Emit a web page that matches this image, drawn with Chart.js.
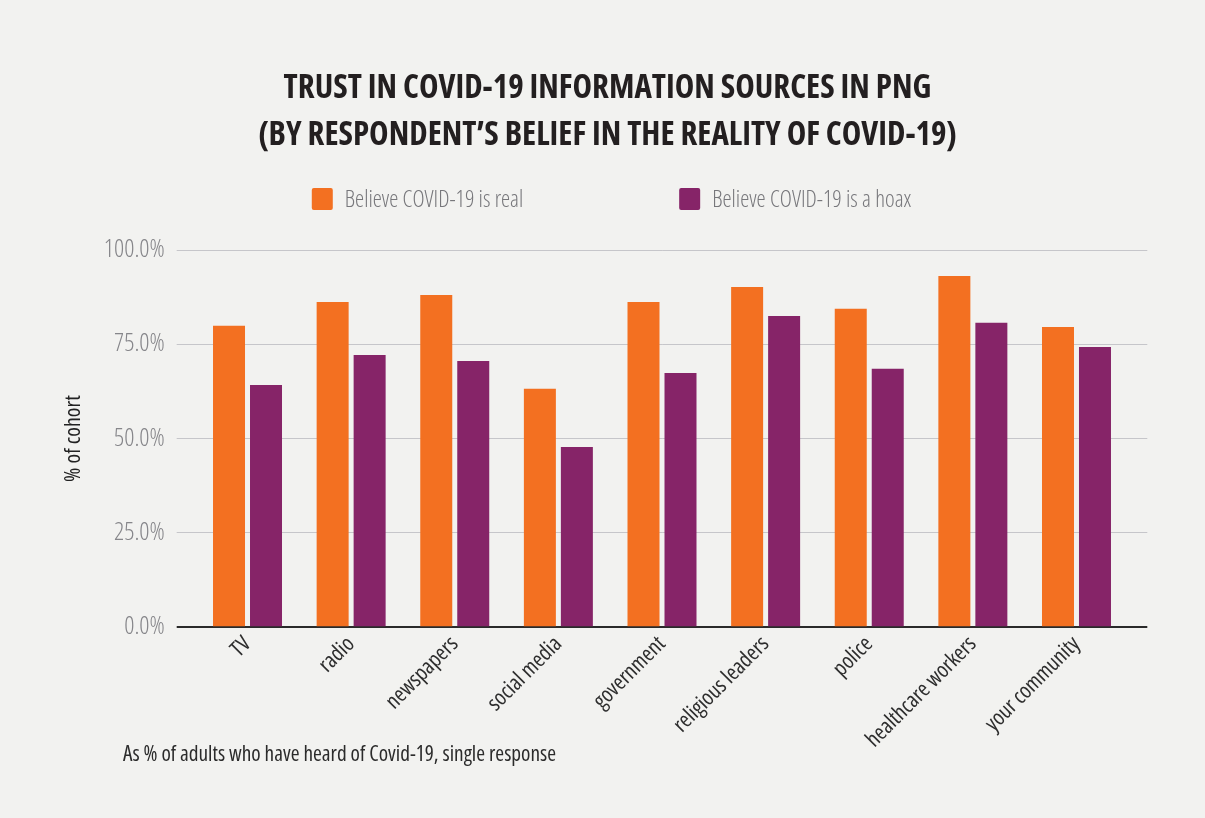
<!DOCTYPE html>
<html>
<head>
<meta charset="utf-8">
<script src="https://cdn.jsdelivr.net/npm/chart.js@4/dist/chart.umd.min.js"></script>
<style>
  html, body { margin: 0; padding: 0; background: #f2f2f0; }
  #wrap { width: 1205px; height: 818px; position: relative; }
  canvas { display: block; }
</style>
</head>
<body>
<div id="wrap"><canvas id="chart" width="1205" height="818"></canvas></div>
<script>
// Trust in information sources, split by whether the respondent believes COVID-19 is real
const categories = ['TV', 'radio', 'newspapers', 'social media', 'government',
  'religious leaders', 'police', 'healthcare workers', 'your community'];
const believeReal = [79.9, 86.2, 88.1, 63.2, 86.2, 90.2, 84.4, 93.1, 79.6];
const believeHoax = [64.2, 72.2, 70.6, 47.8, 67.4, 82.5, 68.5, 80.7, 74.3];
const seriesNames = ['Believe COVID-19 is real', 'Believe COVID-19 is a hoax'];
const seriesColors = ['#f37021', '#862468'];
const yTicks = [0, 25, 50, 75, 100];
const titleLines = ['TRUST IN COVID-19 INFORMATION SOURCES IN PNG',
  '(BY RESPONDENT\u2019S BELIEF IN THE REALITY OF COVID-19)'];
const yTitle = '% of cohort';
const footnote = 'As % of adults who have heard of Covid-19, single response';

// Open Sans is a variable font with a width axis; "condensed" selects its narrow cut
const FAMILY = "'Open Sans', 'Roboto Condensed', sans-serif";
const LIGHT = '300 condensed';
const REGULAR = '400 condensed';
const MEDIUM = '500 condensed';
const BOLD = '700 condensed';
const BG = '#f2f2f0';
const GRID = '#c6c6ca';
const BASE = '#2a2a2a';

const gridColor = c => (c.tick && c.tick.value === 0 ? BASE : GRID);
const gridWidth = c => (c.tick && c.tick.value === 0 ? 2 : 1);

// Paints the card background, the series key under the title and the footnote
const decorations = {
  id: 'decorations',
  beforeDraw(chart) {
    const ctx = chart.ctx;
    ctx.save();
    ctx.fillStyle = BG;
    ctx.fillRect(0, 0, chart.width, chart.height);
    ctx.restore();
  },
  afterDraw(chart) {
    const ctx = chart.ctx;
    ctx.save();
    // series key
    ctx.font = LIGHT + ' 23px ' + FAMILY;
    const box = 21, boxH = 22, gap = 12, itemGap = 156;
    const widths = chart.data.datasets.map(d => box + gap + ctx.measureText(d.label).width);
    const total = widths.reduce((a, b) => a + b, 0) + itemGap * (widths.length - 1);
    let x = (chart.width - total) / 2 + 9;
    const yMid = 199;
    chart.data.datasets.forEach((d, i) => {
      ctx.fillStyle = d.backgroundColor;
      ctx.beginPath();
      ctx.roundRect(x, yMid - boxH / 2, box, boxH, 2);
      ctx.fill();
      ctx.fillStyle = '#77777b';
      ctx.textBaseline = 'alphabetic';
      ctx.textAlign = 'left';
      ctx.fillText(d.label, x + box + gap, 207);
      x += widths[i] + itemGap;
    });
    // footnote
    ctx.font = MEDIUM + ' 21.3px ' + FAMILY;
    ctx.fillStyle = '#2b2b2b';
    ctx.fillText(footnote, 123, 761);
    ctx.restore();
  }
};

new Chart(document.getElementById('chart'), {
  type: 'bar',
  data: {
    labels: categories,
    datasets: [
      { label: seriesNames[0], data: believeReal, backgroundColor: seriesColors[0] },
      { label: seriesNames[1], data: believeHoax, backgroundColor: seriesColors[1] }
    ]
  },
  options: {
    responsive: false,
    devicePixelRatio: 1,
    animation: false,
    categoryPercentage: 0.714,
    barPercentage: 0.865,
    layout: { padding: { left: 10, right: 0, top: 0, bottom: 0 } },
    plugins: {
      legend: { display: false },
      tooltip: { enabled: false },
      title: {
        display: true,
        text: titleLines,
        color: '#231f20',
        font: { family: FAMILY, size: 33, weight: BOLD, lineHeight: 47 / 33 },
        padding: { top: 65, bottom: 91 }
      }
    },
    scales: {
      x: {
        type: 'category',
        grid: { display: false, drawTicks: false },
        border: { display: false },
        ticks: {
          autoSkip: false,
          maxRotation: 45,
          minRotation: 45,
          padding: 4,
          color: '#2e2e2e',
          font: { family: FAMILY, size: 22, weight: REGULAR }
        },
        afterFit(s) { s.height = 818 - 627.3; }
      },
      y: {
        position: 'left',
        min: 0,
        max: 100,
        border: { display: false },
        grid: { color: gridColor, tickColor: gridColor, lineWidth: gridWidth, tickLength: 19 },
        ticks: {
          padding: 12,
          color: '#86868a',
          font: { family: FAMILY, size: 25, weight: LIGHT },
          callback: v => v.toFixed(1) + '%'
        },
        afterBuildTicks(s) { s.ticks = yTicks.map(v => ({ value: v })); },
        title: {
          display: true,
          text: yTitle,
          color: '#222222',
          font: { family: FAMILY, size: 22, weight: REGULAR },
          padding: { top: 51, bottom: 0 }
        },
        afterFit(s) { s.width = 195.7 - 10; }
      },
      yRight: {
        position: 'right',
        min: 0,
        max: 100,
        border: { display: false },
        grid: { drawOnChartArea: false, color: gridColor, tickColor: gridColor, lineWidth: gridWidth, tickLength: 19 },
        ticks: { display: false },
        afterBuildTicks(s) { s.ticks = yTicks.map(v => ({ value: v })); },
        afterFit(s) { s.width = 1205 - 1128.3; }
      }
    }
  },
  plugins: [decorations]
});
</script>
</body>
</html>
